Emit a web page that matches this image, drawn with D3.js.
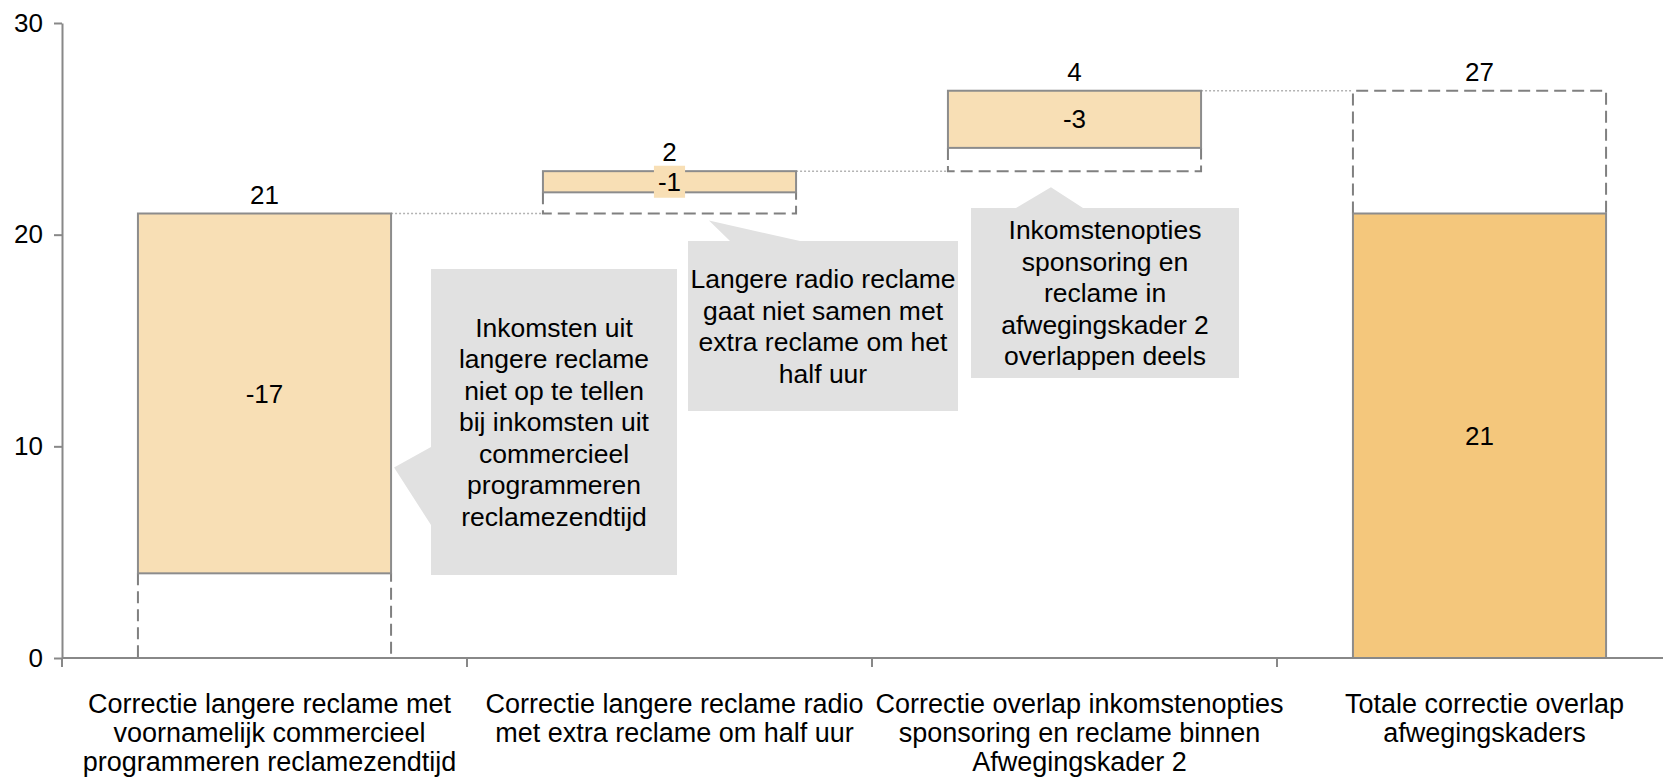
<!DOCTYPE html>
<html>
<head>
<meta charset="utf-8">
<script src="https://cdn.jsdelivr.net/npm/d3@7"></script>
<style>
  html, body { margin: 0; padding: 0; background: #fff; }
  svg { display: block; font-family: "Liberation Sans", Arial, sans-serif; }
</style>
</head>
<body>
<svg id="chart" width="1663" height="780"></svg>
<script>
// ---------- DATA ----------
const categories = [
  "Correctie langere reclame met|voornamelijk commercieel|programmeren reclamezendtijd",
  "Correctie langere reclame radio|met extra reclame om half uur",
  "Correctie overlap inkomstenopties|sponsoring en reclame binnen|Afwegingskader 2",
  "Totale correctie overlap|afwegingskaders"
];
const grossSteps = [21, 2, 3.8];          // amounts stacked per step (label above bar)
const corrections = [-17, -1, -2.7];      // corrections per step (label inside bar)
const totalCorrection = [21];             // total correction (label inside total bar)
const yTicks = [0, 10, 20, 30];
const calloutTexts = [
  ["Inkomsten uit", "langere reclame", "niet op te tellen", "bij inkomsten uit", "commercieel", "programmeren", "reclamezendtijd"],
  ["Langere radio reclame", "gaat niet samen met", "extra reclame om het", "half uur"],
  ["Inkomstenopties", "sponsoring en", "reclame in", "afwegingskader 2", "overlappen deels"]
];

// ---------- DERIVED ----------
const fmt = v => String(Math.round(v));
let running = 0;
const steps = grossSteps.map((gv, i) => {
  const base = running, top = running + gv;
  running = top;
  return { cat: categories[i], base, top, fillBottom: top + corrections[i], topLabel: gv, innerLabel: corrections[i], total: false };
});
const totalGross = running;
steps.push({ cat: categories[3], base: 0, top: totalGross, fillTop: totalCorrection[0], topLabel: totalGross, innerLabel: totalCorrection[0], total: true });

// ---------- LAYOUT / STYLE ----------
const svg = d3.select("#chart");
const axisColor = "#888888";
const barStroke = "#8c8c8c";
const stepFill = "#f8dfb5";
const totalFill = "#f4c77c";
const calloutFill = "#e1e1e1";
const numSize = "26px";

const y = d3.scaleLinear().domain([0, 30]).range([658, 23]);
const xSlot = d3.scaleBand().domain(categories).range([62, 1682]).padding(0);
const xBar = d3.scaleBand().domain(categories).range([62, 1682]).paddingInner(0.375).paddingOuter(0.1875);
const bw = xBar.bandwidth();

// ---------- AXES ----------
const yAxis = d3.axisLeft(y).tickValues(yTicks).tickSize(8).tickSizeOuter(0).tickPadding(11);
const gy = svg.append("g").attr("transform", "translate(62,0)").call(yAxis);
gy.select(".domain").attr("stroke", axisColor).attr("stroke-width", 2);
gy.selectAll(".tick line").attr("stroke", axisColor).attr("stroke-width", 2);
gy.selectAll(".tick text").attr("fill", "#000").style("font-size", numSize).style("font-family", "'Liberation Sans', Arial, sans-serif");

// ---------- BARS ----------
const g = svg.append("g");
steps.slice(0, -1).forEach((s, i) => {
  const nxt = steps[i + 1];
  g.append("line")
    .attr("x1", xBar(s.cat) + bw).attr("x2", xBar(nxt.cat))
    .attr("y1", y(s.top)).attr("y2", y(s.top))
    .attr("stroke", "#b3b3b3").attr("stroke-width", 1.5).attr("stroke-dasharray", "2,2");
});

steps.forEach(s => {
  const x0 = xBar(s.cat), x1 = x0 + bw;
  if (!s.total) {
    g.append("path")
      .attr("d", `M${x0},${y(s.fillBottom)}V${y(s.base)}H${x1}V${y(s.fillBottom)}`)
      .attr("fill", "none").attr("stroke", "#808080").attr("stroke-width", 2).attr("stroke-dasharray", "12,6");
    g.append("rect")
      .attr("x", x0).attr("y", y(s.top)).attr("width", bw).attr("height", y(s.fillBottom) - y(s.top))
      .attr("fill", stepFill).attr("stroke", barStroke).attr("stroke-width", 2);
  } else {
    g.append("path")
      .attr("d", `M${x0},${y(s.fillTop)}V${y(s.top)}H${x1}V${y(s.fillTop)}`)
      .attr("fill", "none").attr("stroke", "#808080").attr("stroke-width", 2).attr("stroke-dasharray", "12,6");
    g.append("rect")
      .attr("x", x0).attr("y", y(s.fillTop)).attr("width", bw).attr("height", y(0) - y(s.fillTop))
      .attr("fill", totalFill).attr("stroke", barStroke).attr("stroke-width", 2);
  }
});

// ---------- X AXIS ----------
const gx = svg.append("g");
gx.append("line").attr("x1", 62).attr("x2", 1663).attr("y1", y(0)).attr("y2", y(0))
  .attr("stroke", axisColor).attr("stroke-width", 2);
categories.forEach(c => {
  gx.append("line").attr("x1", xSlot(c)).attr("x2", xSlot(c)).attr("y1", y(0)).attr("y2", y(0) + 9)
    .attr("stroke", axisColor).attr("stroke-width", 2);
  const t = gx.append("text").attr("text-anchor", "middle").style("font-size", "27px").attr("fill", "#000");
  c.split("|").forEach((line, i) => {
    t.append("tspan").attr("x", xSlot(c) + xSlot.step() / 2 + 5).attr("y", 713 + i * 29).text(line);
  });
});

// ---------- LABELS ----------
steps.forEach(s => {
  const xc = xBar(s.cat) + bw / 2;
  g.append("text").attr("x", xc).attr("y", y(s.top) - 10).attr("text-anchor", "middle")
    .style("font-size", numSize).attr("fill", "#000").text(fmt(s.topLabel));
  const lo = s.total ? 0 : s.fillBottom, hi = s.total ? s.fillTop : s.top;
  const ym = (y(lo) + y(hi)) / 2;
  const lbl = g.append("text").attr("x", xc).attr("y", ym).attr("dy", "0.35em").attr("text-anchor", "middle")
    .style("font-size", numSize).attr("fill", "#000").text(fmt(s.innerLabel));
  const bb = lbl.node().getBBox();
  if (bb.height > y(lo) - y(hi)) {
    g.insert("rect", () => lbl.node())
      .attr("x", bb.x - 4).attr("y", ym - 16).attr("width", bb.width + 8).attr("height", 32)
      .attr("fill", stepFill);
  }
});

// ---------- CALLOUTS ----------
const c1 = { x0: 431, x1: 677, y0: 269, y1: 575 };
const c2 = { x0: 688, x1: 958, y0: 241, y1: 411 };
const c3 = { x0: 971, x1: 1239, y0: 208, y1: 378 };
const tip1 = [xBar(steps[0].cat) + bw + 3, y(9)];
const tip2 = [xBar(steps[1].cat) + 166, y(21) + 7];
const tip3 = [xBar(steps[2].cat) + 103, y(23) + 16];
const callouts = [
  { box: c1, path: `M${c1.x0},${c1.y0}H${c1.x1}V${c1.y1}H${c1.x0}V525L${tip1[0]},${tip1[1]}L${c1.x0},447Z` },
  { box: c2, path: `M${c2.x0},${c2.y0}H730L${tip2[0]},${tip2[1]}L800,${c2.y0}H${c2.x1}V${c2.y1}H${c2.x0}Z` },
  { box: c3, path: `M${c3.x0},${c3.y0}H1016L${tip3[0]},${tip3[1]}L1083,${c3.y0}H${c3.x1}V${c3.y1}H${c3.x0}Z` }
];
const lh = 31.5;
callouts.forEach((c, i) => {
  const cg = svg.append("g");
  cg.append("path").attr("d", c.path).attr("fill", calloutFill);
  const lines = calloutTexts[i];
  const cx = (c.box.x0 + c.box.x1) / 2, cy = (c.box.y0 + c.box.y1) / 2;
  const t = cg.append("text").attr("text-anchor", "middle").style("font-size", "26.5px").attr("fill", "#000");
  lines.forEach((line, k) => {
    t.append("tspan").attr("x", cx).attr("y", cy + (k - (lines.length - 1) / 2) * lh).attr("dy", "0.35em").text(line);
  });
});
</script>
</body>
</html>
